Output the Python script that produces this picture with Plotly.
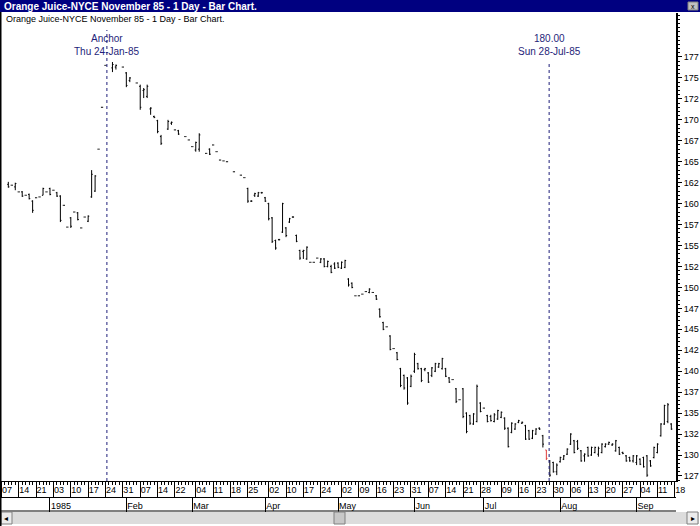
import plotly.graph_objects as go

# ---------------- data (trading-bar number, OHLC) ----------------
bar_no = [4, 5, 6, 7, 8, 9, 10, 11, 12, 13, 14, 15, 16, 17, 18, 19, 20, 21, 22, 23, 24, 25, 26, 27, 28, 29,
          30, 31, 32, 34, 35, 37, 38, 39, 41, 42, 43, 44, 45, 46, 47, 48, 50, 51, 52, 53, 55, 56, 57, 58, 59,
          61, 62, 63, 64, 65, 66, 67, 69, 71, 72, 73, 74, 75, 76, 77, 78, 79, 80, 81, 82, 83, 84, 85, 86, 87,
          88, 89, 90, 91, 92, 93, 94, 95, 96, 97, 98, 99, 100, 101, 102, 103, 104, 105, 106, 107, 108, 109,
          110, 111, 112, 113, 114, 115, 116, 117, 118, 119, 120, 121, 122, 123, 124, 125, 126, 127, 128, 129,
          130, 131, 132, 133, 134, 135, 136, 137, 138, 139, 140, 141, 142, 143, 144, 145, 146, 147, 148, 149,
          150, 151, 152, 153, 154, 155, 156, 157, 158,
          160, 161, 162, 163, 164, 165, 166, 167, 168, 169, 170, 171, 172, 173, 174, 175, 176, 177, 178, 179,
          180, 181, 182, 183, 184, 185, 186, 187, 188, 189, 190, 191, 192, 193, 194, 195]

open_ = [162.3, 162.2, 162.0, 161.4, 161.4, 161.0, 161.1, 160.3, 160.7, 160.8, 161.0, 161.4, 161.8, 161.6, 161.3,
         160.9, 159.8, 157.2, 158.3, 159.0, 158.9, 157.1, 158.4, 157.9, 160.8, 161.5,
         166.5, 171.5, 176.5, 176.2, 176.3, 176.3, 175.6, 174.7, 174.4, 174.0, 173.5, 172.8, 171.3, 170.4, 169.9,
         168.0, 168.9, 169.6, 168.8, 168.7, 168.0, 167.6, 166.8, 166.4, 166.5,
         166.0, 166.5, 167.0, 166.2, 165.2, 165.1, 165.0, 163.8, 163.4, 163.1, 161.8, 160.3, 161.0, 160.9, 161.3,
         160.7, 160.0, 158.3, 155.6, 155.7, 156.6, 157.1, 157.8, 158.4, 156.2,
         154.4, 154.3, 153.4, 153.0, 153.0, 153.5, 153.0, 153.4, 152.5, 152.5, 152.8, 152.9, 152.3, 152.4, 151.0,
         150.5, 149.0, 149.0, 149.2, 149.5, 149.4, 149.4,
         149.0, 147.4, 145.8, 145.3, 144.2, 142.7, 142.2, 140.3, 139.5, 139.2, 138.2, 140.0, 140.9, 140.3, 140.2,
         139.8, 139.5, 140.0, 140.5, 140.3,
         140.3, 139.2, 139.0, 137.9, 136.6, 137.9, 135.0, 134.7, 133.7, 134.0, 136.2, 135.6, 134.7, 134.6, 134.0,
         134.3, 134.5, 134.4, 133.2, 132.7,
         133.1, 133.9, 133.8, 133.5, 132.9, 132.0, 132.5, 133.2, 132.3,
         129.3, 129.1, 128.0, 129.2, 129.5, 130.1, 131.3, 131.7, 131.6, 130.5, 129.9, 130.9, 130.0, 130.3, 130.1,
         130.3, 131.0, 131.3, 131.2, 130.5,
         130.9, 130.3, 129.9, 129.7, 129.3, 129.1, 129.5, 129.7, 129.9, 129.3, 129.7, 130.3, 132.3, 133.7, 134.0,
         133.7]

high = [162.6, 162.2, 162.5, 161.4, 161.5, 161.0, 161.2, 160.4, 160.7, 160.8, 161.9, 161.4, 161.9, 161.6, 161.4,
        161.0, 159.8, 157.2, 158.4, 159.0, 159.0, 157.1, 158.4, 158.6, 164.0, 163.4,
        166.5, 171.5, 176.5, 176.9, 176.6, 176.3, 175.7, 175.1, 174.4, 174.2, 173.8, 174.2, 171.5, 170.5, 170.0,
        168.2, 170.0, 169.8, 168.8, 168.8, 168.0, 167.6, 166.8, 167.4, 168.4,
        166.0, 166.6, 167.0, 166.2, 165.2, 165.1, 165.0, 163.8, 163.4, 163.1, 161.9, 160.4, 161.3, 161.4, 161.4,
        160.8, 160.1, 158.4, 155.7, 155.8, 160.1, 157.2, 158.3, 158.5, 156.3,
        154.5, 154.5, 154.9, 153.0, 153.0, 153.5, 153.5, 153.5, 153.2, 152.7, 153.0, 153.0, 153.1, 153.3, 151.1,
        150.6, 149.0, 149.0, 149.2, 149.5, 149.9, 149.4,
        149.1, 147.5, 145.9, 145.3, 144.3, 142.7, 142.3, 140.4, 139.6, 139.3, 139.6, 142.2, 141.0, 140.4, 140.4,
        139.9, 140.5, 141.0, 141.0, 141.6,
        140.4, 139.3, 139.0, 138.0, 136.6, 138.0, 135.1, 134.8, 135.0, 138.4, 136.3, 135.6, 134.8, 134.8, 135.0,
        135.4, 135.2, 134.5, 133.3, 133.9,
        133.8, 134.2, 134.0, 133.6, 133.0, 133.0, 133.2, 133.3, 132.4,
        129.4, 129.2, 129.0, 129.8, 130.0, 130.8, 132.6, 131.8, 131.8, 130.6, 130.2, 131.0, 131.0, 131.0, 131.0,
        131.4, 131.4, 131.6, 131.4, 131.8,
        131.0, 130.4, 130.0, 129.8, 130.0, 130.0, 129.6, 129.8, 130.0, 129.4, 131.0, 131.4, 133.8, 136.0, 136.2,
        133.8]

low = [161.9, 162.2, 161.6, 161.4, 160.8, 161.0, 160.5, 158.9, 160.7, 160.8, 161.0, 161.4, 161.0, 161.6, 160.8,
       157.8, 159.8, 157.2, 157.1, 159.0, 158.0, 157.1, 158.4, 157.8, 160.7, 161.4,
       166.5, 171.5, 176.5, 175.7, 176.0, 176.3, 173.9, 174.5, 174.4, 171.2, 172.6, 172.6, 170.6, 170.2, 168.4,
       167.0, 168.8, 169.4, 168.8, 168.2, 168.0, 167.6, 166.8, 166.2, 166.2,
       166.0, 165.8, 167.0, 166.2, 165.2, 165.1, 165.0, 163.8, 163.4, 163.1, 160.1, 160.2, 160.8, 160.8, 161.2,
       160.2, 158.0, 155.3, 154.5, 155.6, 156.5, 156.0, 157.7, 158.3, 155.4,
       153.3, 153.4, 153.3, 153.0, 153.0, 153.5, 152.9, 152.4, 152.4, 151.7, 152.2, 152.3, 152.2, 152.3, 150.1,
       149.9, 149.0, 149.0, 149.2, 149.5, 149.3, 149.4,
       148.5, 146.4, 144.9, 145.3, 142.5, 142.7, 141.3, 138.1, 137.8, 136.0, 138.1, 139.8, 140.2, 138.7, 140.0,
       138.6, 139.3, 139.9, 140.4, 140.2,
       139.3, 138.6, 139.0, 136.2, 136.6, 134.4, 132.6, 133.6, 133.6, 133.9, 135.1, 135.6, 133.9, 134.0, 133.9,
       134.2, 134.4, 133.0, 130.9, 132.6,
       133.0, 133.8, 133.7, 131.8, 131.8, 131.9, 132.4, 133.0, 130.9,
       127.4, 127.9, 127.6, 129.1, 129.4, 130.0, 131.2, 130.2, 130.6, 129.2, 129.2, 129.8, 129.9, 130.2, 129.8,
       130.2, 130.9, 131.2, 131.1, 130.4,
       130.0, 130.1, 129.2, 129.2, 129.1, 128.8, 128.8, 128.5, 127.4, 128.6, 129.6, 130.2, 132.2, 133.6, 133.8,
       133.0]

close = [162.0, 162.2, 162.4, 161.4, 160.9, 161.0, 160.6, 159.2, 160.7, 160.8, 161.8, 161.4, 161.1, 161.6, 160.9,
         158.0, 159.8, 157.2, 157.3, 159.0, 158.1, 157.1, 158.4, 158.5, 163.5, 163.3,
         166.5, 171.5, 176.5, 176.6, 176.5, 176.3, 174.1, 175.0, 174.4, 171.5, 173.6, 174.0, 171.4, 170.3, 168.6,
         167.2, 169.8, 169.7, 168.8, 168.3, 168.0, 167.6, 166.8, 167.3, 168.2,
         166.0, 165.9, 167.0, 166.2, 165.2, 165.1, 165.0, 163.8, 163.4, 163.1, 160.3, 160.3, 161.2, 161.3, 161.3,
         160.3, 158.2, 155.5, 154.7, 155.7, 160.0, 156.2, 158.2, 158.4, 155.5,
         153.5, 154.4, 154.8, 153.0, 153.0, 153.5, 153.4, 152.5, 153.1, 151.8, 152.3, 152.4, 153.0, 153.2, 150.3,
         150.0, 149.0, 149.0, 149.2, 149.5, 149.8, 149.4,
         148.6, 146.5, 145.0, 145.3, 142.6, 142.7, 141.4, 138.3, 138.0, 136.2, 139.4, 142.0, 140.3, 138.9, 140.3,
         138.7, 140.4, 140.9, 140.9, 141.5,
         139.4, 138.7, 139.0, 136.4, 136.6, 134.6, 132.8, 133.8, 134.9, 138.2, 135.2, 135.6, 134.0, 134.1, 134.8,
         135.3, 135.1, 133.2, 131.0, 133.8,
         133.7, 134.1, 133.9, 131.9, 131.9, 132.9, 133.1, 133.1, 131.3,
         127.6, 128.0, 128.8, 129.7, 129.9, 130.7, 132.5, 130.3, 130.8, 129.3, 130.1, 129.9, 130.9, 130.9, 130.8,
         131.3, 131.3, 131.5, 131.3, 131.7,
         130.1, 130.2, 129.3, 129.3, 129.9, 129.9, 128.9, 128.6, 127.6, 128.7, 130.9, 131.3, 133.7, 135.9, 136.0,
         133.1]

# highlighted (current) bar, drawn in red
hl_bar = [159]
hl_open = [130.6]
hl_high = [130.6]
hl_low = [129.4]
hl_close = [129.6]

# axis ticks
day_ticks = [2, 7, 12, 17, 22, 27, 32, 37, 42, 47, 52, 58, 63, 68, 73, 79, 84, 89, 94, 100, 105, 110, 115, 120,
             125, 130, 135, 140, 146, 151, 156, 161, 166, 171, 176, 181, 186, 191, 196]
day_labels = ["07", "14", "21", "03", "10", "17", "24", "31", "07", "14", "22", "04", "11", "18", "25", "02", "10",
              "17", "24", "02", "09", "16", "23", "31", "07", "14", "21", "28", "09", "16", "23", "30", "06", "13",
              "20", "27", "04", "11", "18"]
month_ticks = [16, 38, 57, 78, 99, 121, 141, 163, 185]
month_labels = ["1985", "Feb", "Mar", "Apr", "May", "Jun", "Jul", "Aug", "Sep"]
price_ticks = [127.5, 130, 132.5, 135, 137.5, 140, 142.5, 145, 147.5, 150, 152.5, 155, 157.5, 160, 162.5, 165,
               167.5, 170, 172.5, 175, 177.5]
price_labels = ["127", "130", "132", "135", "137", "140", "142", "145", "147", "150", "152", "155", "157", "160",
                "162", "165", "167", "170", "172", "175", "177"]

anchor1_bar = 32.4
anchor2_bar = 159.8

# ---------------- layout helpers ----------------
W, H = 700, 526
M_L, M_R, M_T, M_B = 1, 24, 13, 15
PW = W - M_L - M_R
PH = H - M_T - M_B
PLOT_BOTTOM_PX = 481


def py(px):
    return (H - M_B - px) / PH


def pxx(px):
    return (px - M_L) / PW


FONT = "Liberation Sans, Arial, sans-serif"
NAVY = "#1f1f7a"

X_RANGE = [1.89, 196.35]
Y_RANGE = [126.9, 182.75]

fig = go.Figure()
fig.add_trace(go.Ohlc(x=bar_no, open=open_, high=high, low=low, close=close,
                      increasing=dict(line=dict(color="black", width=1)),
                      decreasing=dict(line=dict(color="black", width=1)),
                      tickwidth=0.32, hoverinfo="skip", showlegend=False))
fig.add_trace(go.Ohlc(x=hl_bar, open=hl_open, high=hl_high, low=hl_low, close=hl_close,
                      increasing=dict(line=dict(color="#e03c3c", width=1)),
                      decreasing=dict(line=dict(color="#e03c3c", width=1)),
                      tickwidth=0.32, hoverinfo="skip", showlegend=False))
# carrier traces for the day-label and month axes
fig.add_trace(go.Scatter(x=[month_ticks[0]], y=[150], xaxis="x2", yaxis="y", mode="markers",
                         marker=dict(opacity=0), hoverinfo="skip", showlegend=False))
fig.add_trace(go.Scatter(x=[month_ticks[0]], y=[150], xaxis="x3", yaxis="y", mode="markers",
                         marker=dict(opacity=0), hoverinfo="skip", showlegend=False))

shapes = []
# title bar
shapes.append(dict(type="rect", xref="paper", yref="paper", x0=pxx(-2), x1=pxx(702), y0=py(12), y1=py(-2),
                   fillcolor="#000080", line=dict(width=0), layer="above"))
# close box in title bar
shapes.append(dict(type="rect", xref="paper", yref="paper", x0=pxx(688), x1=pxx(698), y0=py(10), y1=py(2),
                   fillcolor="#c0c0c0", line=dict(width=1, color="#808080"), layer="above"))
# anchor lines
shapes.append(dict(type="line", xref="x", yref="paper", x0=anchor1_bar, x1=anchor1_bar, y0=py(PLOT_BOTTOM_PX),
                   y1=py(30), line=dict(color=NAVY, width=1, dash="dot")))
shapes.append(dict(type="line", xref="x", yref="paper", x0=anchor2_bar, x1=anchor2_bar, y0=py(PLOT_BOTTOM_PX),
                   y1=py(61), line=dict(color=NAVY, width=1, dash="dot")))
# row separator under the month row
shapes.append(dict(type="line", xref="paper", yref="paper", x0=pxx(0), x1=pxx(676), y0=py(511), y1=py(511),
                   line=dict(color="black", width=1)))
# scrollbar
shapes.append(dict(type="rect", xref="paper", yref="paper", x0=pxx(1), x1=pxx(699), y0=py(524), y1=py(512),
                   fillcolor="#dcdcdc", line=dict(width=0)))
shapes.append(dict(type="rect", xref="paper", yref="paper", x0=pxx(1), x1=pxx(12), y0=py(524), y1=py(512),
                   fillcolor="#ececec", line=dict(width=1, color="#808080")))
shapes.append(dict(type="rect", xref="paper", yref="paper", x0=pxx(687), x1=pxx(698), y0=py(524), y1=py(512),
                   fillcolor="#ececec", line=dict(width=1, color="#808080")))
shapes.append(dict(type="rect", xref="paper", yref="paper", x0=pxx(334), x1=pxx(345), y0=py(524), y1=py(512),
                   fillcolor="#c8c8c8", line=dict(width=1, color="#808080")))
# left window border
shapes.append(dict(type="line", xref="paper", yref="paper", x0=pxx(0.5), x1=pxx(0.5), y0=py(526), y1=py(12),
                   line=dict(color="black", width=2)))

annotations = [
    dict(text="<b>Orange Juice-NYCE November 85 - 1 Day - Bar Chart.</b>", xref="paper", yref="paper",
         x=pxx(2), y=py(6), xanchor="left", yanchor="middle", showarrow=False,
         font=dict(family=FONT, size=10, color="white")),
    dict(text="x", xref="paper", yref="paper", x=pxx(693), y=py(6), xanchor="center", yanchor="middle",
         showarrow=False, font=dict(family=FONT, size=7, color="black")),
    dict(text="Orange Juice-NYCE November 85 - 1 Day - Bar Chart.", xref="paper", yref="paper",
         x=pxx(4), y=py(19), xanchor="left", yanchor="middle", showarrow=False,
         font=dict(family=FONT, size=9, color="black")),
    dict(text="Anchor", xref="x", yref="paper", x=anchor1_bar, y=py(39), xanchor="center", yanchor="middle",
         showarrow=False, font=dict(family=FONT, size=10, color=NAVY)),
    dict(text="Thu 24-Jan-85", xref="x", yref="paper", x=anchor1_bar, y=py(52), xanchor="center",
         yanchor="middle", showarrow=False, font=dict(family=FONT, size=10, color=NAVY)),
    dict(text="180.00", xref="x", yref="paper", x=anchor2_bar, y=py(39), xanchor="center", yanchor="middle",
         showarrow=False, font=dict(family=FONT, size=10, color=NAVY)),
    dict(text="Sun 28-Jul-85", xref="x", yref="paper", x=anchor2_bar, y=py(52), xanchor="center",
         yanchor="middle", showarrow=False, font=dict(family=FONT, size=10, color=NAVY)),
    dict(text="◂", xref="paper", yref="paper", x=pxx(6.5), y=py(518), xanchor="center", yanchor="middle",
         showarrow=False, font=dict(family="DejaVu Sans", size=8, color="black")),
    dict(text="▸", xref="paper", yref="paper", x=pxx(692.5), y=py(518), xanchor="center", yanchor="middle",
         showarrow=False, font=dict(family="DejaVu Sans", size=8, color="black")),
]

fig.update_layout(
    width=W, height=H,
    margin=dict(l=M_L, r=M_R, t=M_T, b=M_B, pad=0, autoexpand=False),
    paper_bgcolor="white", plot_bgcolor="white",
    showlegend=False,
    font=dict(family=FONT, size=9, color="black"),
    # plot frame bottom line with one small tick per trading day
    xaxis=dict(range=X_RANGE, rangeslider=dict(visible=False), showgrid=False, zeroline=False,
               automargin=False, showline=True, linecolor="black", linewidth=1,
               tickmode="linear", tick0=0, dtick=1, ticks="outside", ticklen=3, tickwidth=1,
               tickcolor="black", showticklabels=False, fixedrange=True),
    # week labels row
    xaxis3=dict(range=X_RANGE, overlaying="x", anchor="free", position=py(PLOT_BOTTOM_PX), side="bottom",
                automargin=False, showgrid=False, zeroline=False, showline=False,
                tickmode="array", tickvals=day_ticks, ticktext=day_labels, tickangle=0,
                ticks="outside", ticklen=15, tickwidth=1, tickcolor="black",
                ticklabelposition="outside right", ticklabelstandoff=0, ticklabeloverflow="allow",
                tickfont=dict(family=FONT, size=9, color="black"), fixedrange=True),
    # month row
    xaxis2=dict(range=X_RANGE, overlaying="x", anchor="free", position=py(497), side="bottom",
                automargin=False, showgrid=False, zeroline=False, showline=True, linecolor="black", linewidth=1,
                tickmode="array", tickvals=month_ticks, ticktext=month_labels, tickangle=0,
                ticks="outside", ticklen=14, tickwidth=1, tickcolor="black",
                ticklabelposition="outside right", ticklabelstandoff=0, ticklabeloverflow="allow",
                tickfont=dict(family=FONT, size=9, color="black"), fixedrange=True),
    yaxis=dict(range=Y_RANGE, domain=[py(PLOT_BOTTOM_PX), 1], side="right", showgrid=False, zeroline=False,
               automargin=False, showline=True, linecolor="black", linewidth=2,
               tickmode="array", tickvals=price_ticks, ticktext=price_labels,
               ticks="outside", ticklen=4, tickwidth=1, tickcolor="black", ticklabeloverflow="allow",
               tickfont=dict(family=FONT, size=9, color="black"),
               minor=dict(tickmode="linear", tick0=127.5, dtick=0.5, ticks="outside", ticklen=2,
                          tickcolor="black", tickwidth=1),
               fixedrange=True),
    shapes=shapes,
    annotations=annotations,
)

fig.write_html("out.html", config={"displayModeBar": False, "staticPlot": True},
               post_script="document.body.style.margin='0';")
